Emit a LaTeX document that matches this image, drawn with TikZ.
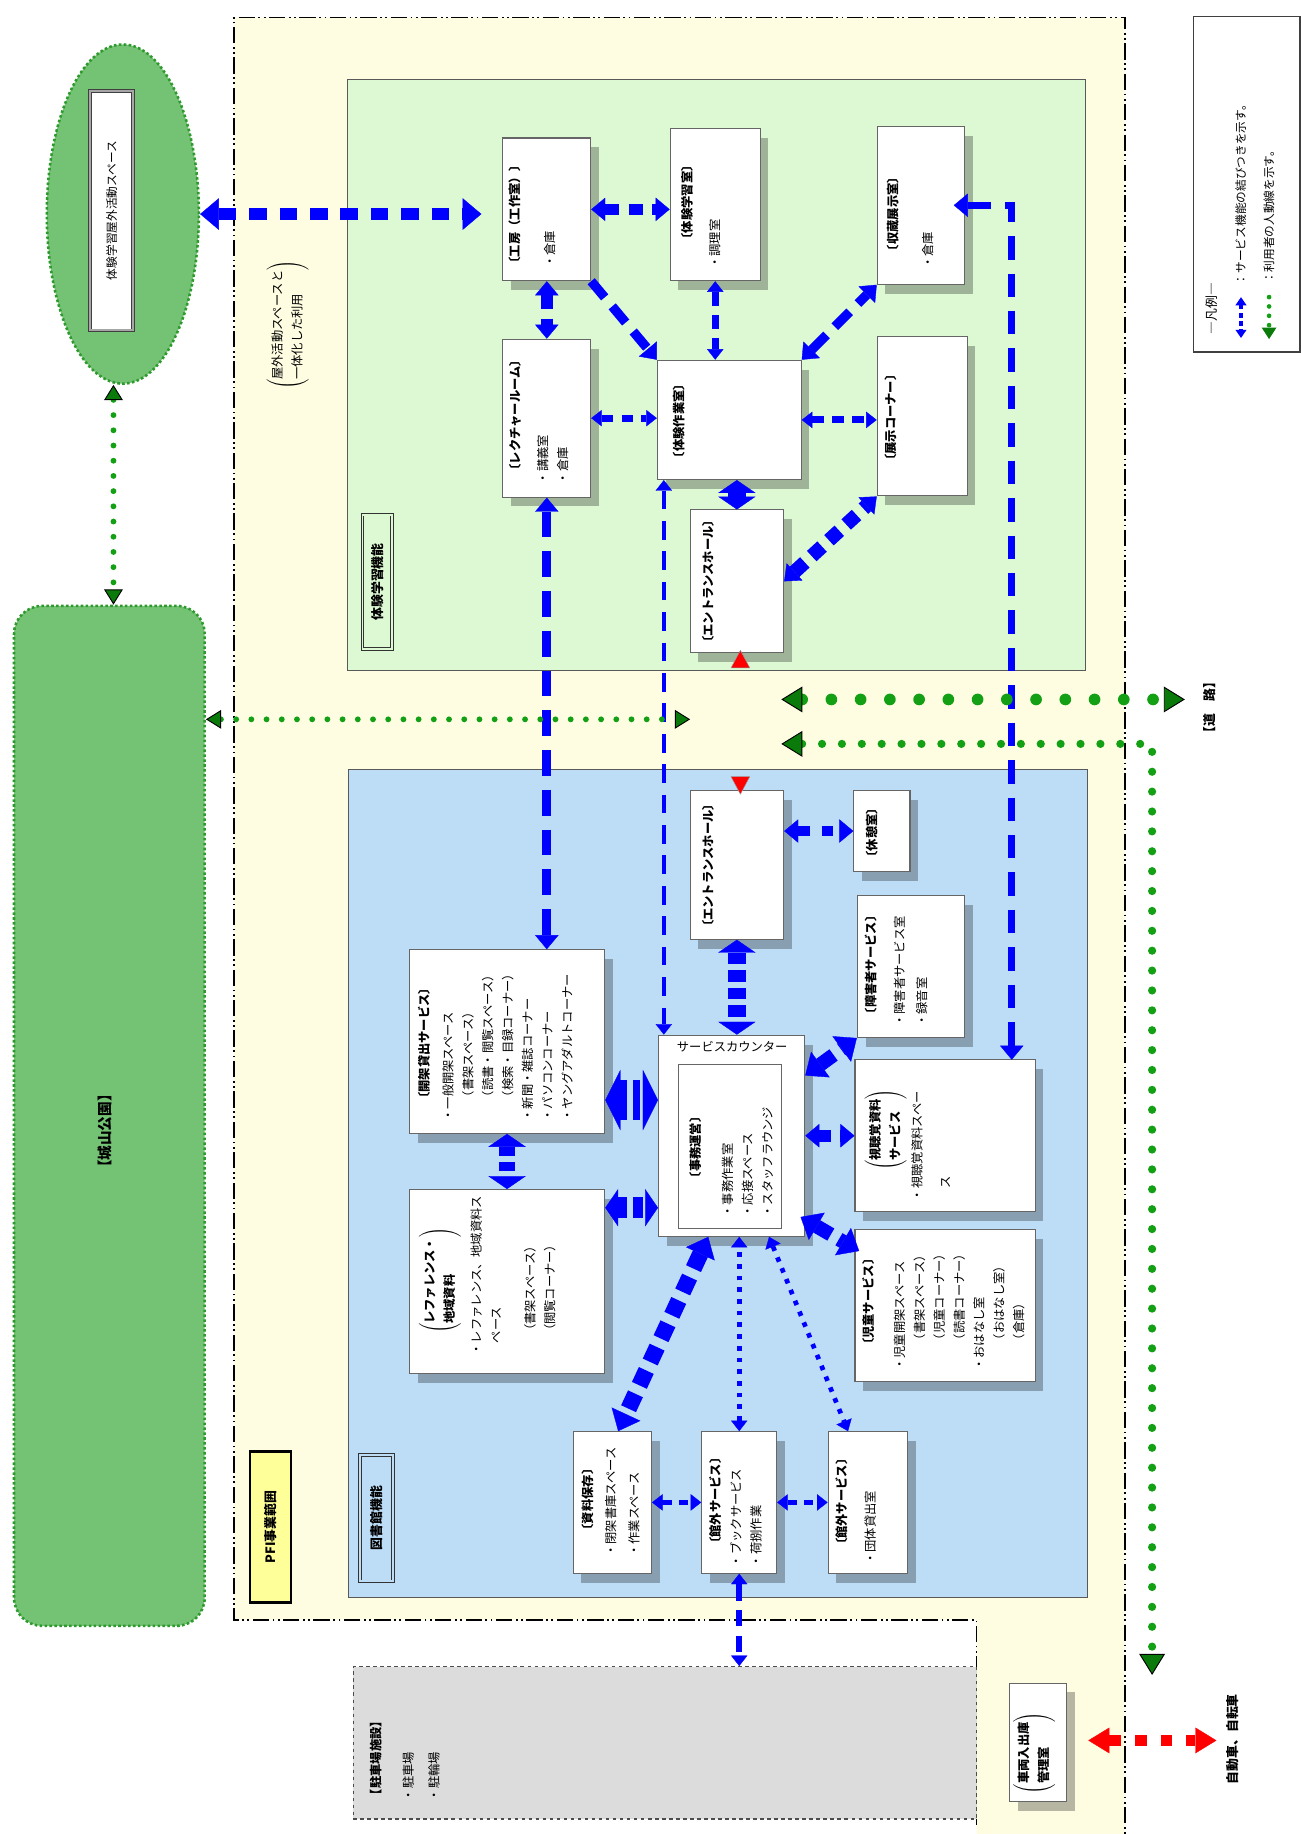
\documentclass[tikz,border=0pt]{standalone}
\usepackage{fontspec}
\setmainfont{Noto Sans CJK JP}
\usetikzlibrary{arrows.meta,calc,shadows,shapes.geometric}
\definecolor{pfiyel}{HTML}{FEFDE2}
\definecolor{grreg}{HTML}{DDF9D3}
\definecolor{blreg}{HTML}{BDDDF7}
\definecolor{parkgr}{HTML}{74C274}
\definecolor{parkbd}{HTML}{2E9A2E}
\definecolor{ablue}{HTML}{0000FF}
\definecolor{agreen}{HTML}{14A014}
\definecolor{ahead}{HTML}{0A7A0A}
\definecolor{pgray}{HTML}{DCDCDC}
\definecolor{pfilab}{HTML}{FFFF99}
\tikzset{
  bA/.tip={Triangle[length=9pt,width=14pt,line width=0.3pt]},
  bB/.tip={Triangle[length=12pt,width=20pt,line width=0.3pt]},
  bC/.tip={Triangle[length=16pt,width=27pt,line width=0.3pt]},
  bD/.tip={Triangle[length=11pt,width=32pt,line width=0.3pt]},
  bE/.tip={Triangle[length=13pt,width=52pt,line width=0.3pt]},
  gA/.tip={Triangle[length=18pt,width=22pt,line width=0.8pt,color=black,fill=ahead]},
  gB/.tip={Triangle[length=13pt,width=16pt,line width=0.8pt,color=black,fill=ahead]},
  rA/.tip={Triangle[length=18pt,width=22pt,line width=0.3pt]},
  box/.style={draw=black!60, line width=0.9pt, fill=white, inner sep=0pt,
    drop shadow={shadow xshift=7pt, shadow yshift=-8pt, fill=black, opacity=0.28}},
  hd/.style={rotate=90, anchor=north, inner sep=0pt, font=\fontsize{10.5}{17}\selectfont\bfseries},
  it/.style={rotate=90, anchor=north west, inner sep=0pt, align=left, font=\fontsize{10.5}{17}\selectfont},
  sv/.style n args={3}{draw=ablue, line width=#1pt, dash pattern=on #2pt off #3pt},
  gd/.style 2 args={draw=agreen, line width=#1pt, dash pattern=on 0pt off #2pt, line cap=round},
  lab/.style={rotate=90, inner sep=0pt, font=\fontsize{11}{13}\selectfont\bfseries},
}
\begin{document}
\begin{tikzpicture}[x=1pt,y=-1pt]
\useasboundingbox (0,0) rectangle (1112,1568);
\fill[white] (0,0) rectangle (1112,1568);
% PFI area
\fill[pfiyel] (200,15) -- (962,15) -- (962,1568) -- (835,1568) -- (835,1385) -- (200,1385) -- cycle;
\draw[line width=1.4pt, dash pattern=on 14pt off 3pt on 1.5pt off 3pt on 1.5pt off 3pt]
  (835,1560) -- (835,1385) -- (200,1385) -- (200,15) -- (962,15) -- (962,1568);
% regions
\node[draw=black!65, line width=0.9pt, fill=grreg, minimum width=631pt, minimum height=505pt, inner sep=0pt] (greg) at (612.5,320.5) {};
\node[draw=black!65, line width=0.9pt, fill=blreg, minimum width=632pt, minimum height=708pt, inner sep=0pt] (breg) at (614,1012) {};
% park & outdoor
\node[ellipse, draw=parkbd, dotted, line width=2.2pt, fill=parkgr, minimum width=130pt, minimum height=290pt, inner sep=0pt] (ell) at (105,183) {};
\node[rotate=90, draw=black!75, line width=0.7pt, double=black!35, double distance=1.8pt, fill=white, minimum width=205pt, minimum height=37pt, inner sep=0pt, font=\fontsize{10}{12}\selectfont] (ebox) at (95.5,180) {体験学習屋外活動スペース};
\node[rounded corners=24pt, draw=parkbd, dotted, line width=2.2pt, fill=parkgr, minimum width=163pt, minimum height=872pt, inner sep=0pt] (shiro) at (93.5,954) {};
\node[lab, font=\fontsize{12.5}{14}\selectfont\bfseries] (shirot) at (90,967) {【城山公園】};
\node[rotate=90, inner sep=0pt, font=\fontsize{10.5}{17}\selectfont] (okugai) at (246,278)
  {$\left(\begin{tabular}{@{}l@{}}屋外活動スペースと\\一体化した利用\end{tabular}\right)$};
% parking
\node[draw=black!70, dashed, line width=1.2pt, fill=pgray, minimum width=533pt, minimum height=130pt, inner sep=0pt] (pk) at (568.5,1490) {};
\node[it, font=\fontsize{10.5}{17}\selectfont\bfseries] (pkt) at (316,1540) {【駐車場施設】};
\node[it, font=\fontsize{10.5}{22}\selectfont] (pki) at (344,1540) {・駐車場\\・駐輪場};
% labels
\node[lab, draw=black!80, line width=0.8pt, double=grreg, double distance=1.5pt, fill=grreg, minimum width=115pt, minimum height=25pt] (glab) at (322.5,497.5) {体験学習機能};
\node[lab, draw=black!80, line width=0.8pt, double=blreg, double distance=1.5pt, fill=blreg, minimum width=108pt, minimum height=28pt] (blab) at (322,1298) {図書館機能};
\node[lab, draw=black, line width=2pt, fill=pfilab, minimum width=129pt, minimum height=35pt] (plab) at (231.5,1305.5) {PFI事業範囲};
% green boxes
\node[box, minimum width=75pt, minimum height=122pt] (g1) at (467.5,179) {};
\node[box, minimum width=77pt, minimum height=130pt] (g2) at (611.5,175) {};
\node[box, minimum width=75pt, minimum height=135pt] (g3) at (787.5,175.5) {};
\node[box, minimum width=75pt, minimum height=135pt] (g4) at (467.5,357.5) {};
\node[box, minimum width=123pt, minimum height=102pt] (g5) at (623.5,359) {};
\node[box, minimum width=77pt, minimum height=136pt] (g6) at (788.5,356) {};
\node[box, minimum width=80pt, minimum height=122pt] (g7) at (630,497) {};
% blue boxes
\node[box, minimum width=80pt, minimum height=127pt] (b1) at (630,739.5) {};
\node[box, minimum width=48pt, minimum height=69pt] (b2) at (754,710.5) {};
\node[box, minimum width=92pt, minimum height=121pt] (b3) at (779,826.5) {};
\node[box, minimum width=167pt, minimum height=157pt] (b4) at (433.5,890.5) {};
\node[box, minimum width=167pt, minimum height=157pt] (b5) at (433.5,1095.5) {};
\node[box, minimum width=125pt, minimum height=172pt] (b6) at (625.5,971) {};
\node[draw=black!60, line width=0.9pt, fill=white, minimum width=88pt, minimum height=140pt, inner sep=0pt] (b6i) at (624,980) {};
\node[box, minimum width=154pt, minimum height=130pt] (b7) at (808,971) {};
\node[box, minimum width=154pt, minimum height=130pt] (b8) at (808,1116) {};
\node[box, minimum width=67pt, minimum height=121pt] (b9) at (523.5,1284.5) {};
\node[box, minimum width=64pt, minimum height=121pt] (b10) at (632,1284.5) {};
\node[box, minimum width=68pt, minimum height=121pt] (b11) at (742,1284.5) {};
\node[box, minimum width=49pt, minimum height=101pt] (car) at (887.5,1489.5) {};
% texts green
\node[hd] (g1h) at (434.5,183) {〔工房（工作室）〕};
\node[it] (g1i) at (465,229) {・倉庫};
\node[hd] (g2h) at (582,173) {〔体験学習室〕};
\node[it] (g2i) at (606,230) {・調理室};
\node[hd] (g3h) at (758,183) {〔収蔵展示室〕};
\node[it] (g3i) at (788,230) {・倉庫};
\node[hd] (g4h) at (435,355) {〔レクチャールーム〕};
\node[it] (g4i) at (459,414) {・講義室\\・倉庫};
\node[hd] (g5h) at (575,360) {〔体験作業室〕};
\node[hd] (g6h) at (756,357) {〔展示コーナー〕};
\node[hd] (g7h) at (600,497) {〔エントランスホール〕};
% texts blue
\node[hd] (b1h) at (600,740) {〔エントランスホール〕};
\node[hd] (b2h) at (740,712) {〔休憩室〕};
\node[hd] (b3h) at (739,825) {〔障害者サービス〕};
\node[it, font=\fontsize{10.5}{19}\selectfont] (b3i) at (764,878) {・障害者サービス室\\・録音室};
\node[hd] (b4h) at (357,892) {〔開架貸出サービス〕};
\node[it] (b4i) at (378,959) {・一般開架スペース\\\hspace{1.5em}（書架スペース）\\\hspace{1.5em}（読書・閲覧スペース）\\\hspace{1.5em}（検索・目録コーナー）\\・新聞・雑誌コーナー\\・パソコンコーナー\\・ヤングアダルトコーナー};
\node[hd] (b5h) at (358,1095) {$\left(\begin{tabular}{@{}l@{}}レファレンス・\\地域資料\end{tabular}\right)$};
\node[it] (b5i) at (402,1159) {・レファレンス、地域資料ス\\\hspace{1em}ペース\\[12pt]\hspace{1.5em}（書架スペース）\\\hspace{1.5em}（閲覧コーナー）};
\node[inner sep=0pt, font=\fontsize{10.5}{12}\selectfont] (b6h) at (626,895) {サービスカウンター};
\node[hd] (b6ih) at (589,981) {〔事務運営〕};
\node[it] (b6ii) at (617,1041) {・事務作業室\\・応接スペース\\・スタッフラウンジ};
\node[hd] (b7h) at (739,966) {$\left(\begin{tabular}{@{}l@{}}視聴覚資料\\サービス\end{tabular}\right)$};
\node[it] (b7i) at (779,1027) {・視聴覚資料スペー\\[7pt]\hspace{1em}ス};
\node[hd] (b8h) at (737,1113) {〔児童サービス〕};
\node[it] (b8i) at (764,1172) {・児童開架スペース\\\hspace{2em}（書架スペース）\\\hspace{2em}（児童コーナー）\\\hspace{2em}（読書コーナー）\\・おはなし室\\\hspace{2em}（おはなし室）\\\hspace{2em}（倉庫）};
\node[hd] (b9h) at (497,1282) {〔資料保存〕};
\node[it, font=\fontsize{10.5}{20}\selectfont] (b9i) at (517,1331) {・閉架書庫スペース\\・作業スペース};
\node[hd] (b10h) at (606,1283) {〔館外サービス〕};
\node[it] (b10i) at (624,1340) {・ブックサービス\\・荷捌作業};
\node[hd] (b11h) at (714,1284) {〔館外サービス〕};
\node[it] (b11i) at (739,1338) {・団体貸出室};
\node[it, font=\fontsize{10.5}{17}\selectfont\bfseries] (carh) at (866,1534) {$\left(\begin{tabular}{@{}l@{}}車両入出庫\\管理室\end{tabular}\right)$};
% outer texts
\node[lab] (road) at (1034,605) {【道　路】};
\node[rotate=90, inner sep=0pt, font=\fontsize{11}{13}\selectfont\bfseries] (jido) at (1054,1487) {自動車、自転車};
% legend
\node[draw=black!75, line width=1.3pt, fill=white, minimum width=91pt, minimum height=287pt, inner sep=0pt] (leg) at (1066,157.5) {};
\node[hd, font=\fontsize{11}{13}\selectfont] (legh) at (1031,264) {―凡例―};
\node[it, font=\fontsize{10}{12}\selectfont] (leg1) at (1056,244) {：サービス機能の結びつきを示す。};
\node[it, font=\fontsize{10}{12}\selectfont] (leg2) at (1080,243) {：利用者の人動線を示す。};
\coordinate (l1a) at (1061,254); \coordinate (l1b) at (1061,289);
\draw[sv={3}{4}{3}, {Triangle[length=7pt,width=9pt]}-{Triangle[length=7pt,width=9pt]}] (l1a) -- (l1b);
\coordinate (l2a) at (1085,254); \coordinate (l2b) at (1085,290);
\draw[gd={4}{8}, -{Triangle[length=10pt,width=12pt,fill=ahead,color=ahead]}] (l2a) -- (l2b);
% red triangles
\fill[red, draw=black!40, line width=0.4pt] (625,571) -- (641,571) -- (633,556) -- cycle;
\fill[red, draw=black!40, line width=0.4pt] (625,664) -- (641,664) -- (633,679) -- cycle;
% blue connectors
\draw[sv={10}{15}{11}, bC-bC, shorten >=18pt] (ell.east) -- (ell.east -| g1.west);
\draw[sv={10}{12}{8}, bB-bB] (g1.east) -- (g1.east -| g2.west);
\draw[sv={10}{12}{8}, bB-bB] (g1.south) -- (g1.south |- g4.north);
\draw[sv={8}{18}{10}, -bB] (g1.south east) -- (g5.north west);
\draw[sv={6}{12}{8}, bA-bA] (g2.south) -- (g2.south |- g5.north);
\draw[sv={8}{18}{10}, bB-bB] (g5.north east) -- (g3.south west);
\draw[sv={6}{10}{7}, bA-bA] (g4.east) -- (g4.east -| g5.west);
\draw[sv={6}{10}{7}, bA-bA] (g5.east) -- (g5.east -| g6.west);
\draw[sv={16}{10}{5}, bD-bD] (g7.north) -- (g7.north |- g5.south);
\draw[sv={12}{12}{8}, bB-bB] (g7.east) -- (g6.south west);
\coordinate (kB) at (865,906);
\draw[sv={6}{20}{12}, bB-bB, shorten <=-10pt] (g3.east) -| (kB);
\coordinate (lA) at ($(g5.south west)+(6,0)$);
\draw[sv={4}{16}{10}, bA-bA] (lA) -- (lA |- b6.north);
\draw[sv={8}{22}{12}, bB-bB] (g4.south) -- (g4.south |- b4.north);
\draw[sv={8}{10}{10}, bB-bB] (b2.west -| b1.east) -- (b2.west);
\draw[sv={16}{10}{5}, bD-bD] (b1.south) -- (b1.south |- b6.north);
\draw[sv={12}{14}{8}, bC-bC] ($(b6.north east)+(0,35)$) -- (b3.south west);
\draw[sv={10}{10}{8}, bB-bB] (b6.east) -- (b6.east -| b7.west);
\draw[sv={12}{14}{8}, bC-bC] ($(b6.south east)+(-4,-17)$) -- ($(b8.north west)+(4,19)$);
\coordinate (sA) at ($(b4.east)+(0,50)$);
\draw[sv={34}{6}{5}, bE-bE] (sA) -- (sA -| b6.west);
\coordinate (tA) at ($(b5.north east)+(0,16)$);
\draw[sv={18}{8}{5}, bD-bD] (tA) -- (tA -| b6.west);
\draw[sv={14}{8}{5}, bD-bD] (b4.south) -- (b5.north);
\draw[sv={14}{14}{8}, bC-bC] ($(b6.south)+(-20,0)$) -- ($(b9.north)+(5,0)$);
\draw[sv={4}{4}{6}, bA-bA] (b10.north) -- (b10.north |- b6.south);
\draw[sv={4}{4}{6}, bA-bA] ($(b6.south)+(32,0)$) -- ($(b11.north)+(-17,0)$);
\draw[sv={5}{8}{6}, bA-bA] (b9.east) -- (b10.west);
\draw[sv={5}{8}{6}, bA-bA] (b10.east) -- (b11.west);
\draw[sv={5}{14}{8}, bA-bA] (b10.south) -- (b10.south |- pk.north);
% green connectors
\coordinate (eA) at ($(ell.south)+(-8,0)$);
\draw[gd={5}{13}, gB-gB] (eA) -- (eA |- shiro.north);
\coordinate (pA) at (590,615);
\draw[gd={5}{13}, gB-gB] (pA -| shiro.east) -- (pA);
\coordinate (r1a) at (668,598); \coordinate (r1b) at (1013,598);
\draw[gd={10}{25}, gA-gA] (r1a) -- (r1b);
\coordinate (r2a) at (668,636); \coordinate (r2c) at (985,1432);
\draw[gd={7}{17}, gA-gA] (r2a) -| (r2c);
% red connector
\coordinate (rdA) at (1040,1488);
\draw[draw=red, line width=10pt, dash pattern=on 10pt off 12pt, rA-rA, shorten <=18pt] (car.east |- rdA) -- (rdA);
\end{tikzpicture}
\end{document}
